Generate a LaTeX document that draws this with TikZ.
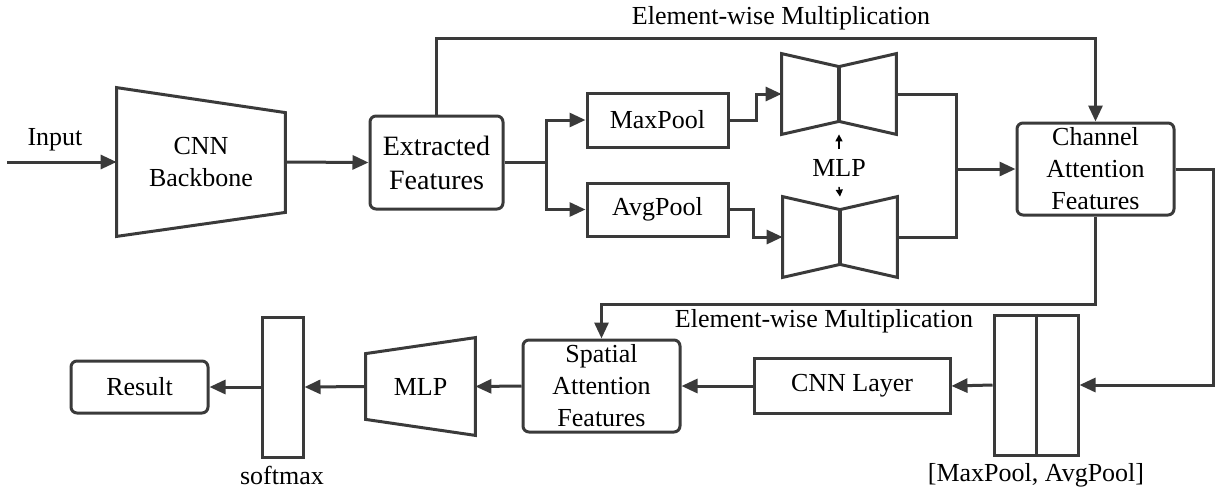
\documentclass[tikz,border=0pt]{standalone}
\usepackage{fontspec}
\setmainfont{Liberation Serif}
\usepackage{xcolor}
\usepackage{tikz}
\usetikzlibrary{positioning, arrows.meta}
\definecolor{linegray}{HTML}{3A3A3A}

\tikzset{
  edge/.style={draw=linegray, line width=1.5pt},
  arr/.style={edge, -{Triangle[length=8pt, width=7pt]}},
  tinyarr/.style={draw=black, line width=0.7pt, -{Triangle[length=3.5pt, width=3.5pt]}},
  rbox/.style={edge, rounded corners=3pt, align=center, inner sep=0pt},
  sqbox/.style={edge, align=center, inner sep=0pt},
  ghost/.style={draw=none, align=center, inner sep=0pt},
  lbl/.style={inner sep=0pt, align=center}
}

\begin{document}
\begin{tikzpicture}[x=0.5pt, y=-0.5pt, font=\fontsize{13}{16}\selectfont]
  \useasboundingbox (0,0) rectangle (1215,488);

  % top row
  \coordinate (in) at (7,162);
  \node[lbl] (inlbl) at (55,140) {Input};
  \node[ghost, minimum width=84pt, minimum height=74pt] (cnn) at (201,162) {CNN\\Backbone};
  \draw[edge] (cnn.north west) -- ([yshift=-12.5pt]cnn.north east)
    -- ([yshift=12pt]cnn.south east) -- (cnn.south west) -- cycle;
  \node[rbox, minimum width=66.5pt, minimum height=46.5pt,
        font=\fontsize{14}{17}\selectfont] (ext) at (436.5,162.5) {Extracted\\Features};
  \node[sqbox, minimum width=70.5pt, minimum height=27pt] (maxp) at (657.5,120) {MaxPool};
  \node[sqbox, minimum width=70.5pt, minimum height=26.5pt] (avgp) at (657.5,209.5) {AvgPool};
  \node[ghost, minimum width=57pt, minimum height=40pt] (mlpa) at (839,94) {};
  \node[ghost, minimum width=57pt, minimum height=40pt] (mlpb) at (840,237) {};
  \foreach \m in {mlpa, mlpb} {
    \draw[edge] (\m.north west) -- ([yshift=-6.5pt]\m.north) -- (\m.north east)
      -- (\m.south east) -- ([yshift=6.5pt]\m.south) -- (\m.south west) -- cycle;
    \draw[edge, line width=2pt] ([yshift=-6.5pt]\m.north) -- ([yshift=6.5pt]\m.south);
  }
  \node[lbl, inner sep=5pt] (mlplbl) at (839,168) {MLP};
  \node[rbox, minimum width=78.5pt, minimum height=46pt] (chan) at (1095.5,169)
    {Channel\\Attention\\Features};
  \coordinate (join) at (956,169);

  % bottom row
  \node[sqbox, minimum width=42pt, minimum height=70pt] (cat) at (1036,385) {};
  \draw[edge] (cat.north) -- (cat.south);
  \node[lbl] (catlbl) at (1036,475) {[MaxPool, AvgPool]};
  \node[sqbox, minimum width=98pt, minimum height=27.5pt] (cnnl) at (852,386) {CNN Layer};
  \node[rbox, minimum width=78.5pt, minimum height=46pt] (spat) at (601.5,386)
    {Spatial\\Attention\\Features};
  \node[ghost, minimum width=54.5pt, minimum height=48.5pt] (mlpc) at (420.5,386.5) {MLP};
  \draw[edge] ([yshift=-8pt]mlpc.north west) -- (mlpc.north east)
    -- (mlpc.south east) -- ([yshift=8pt]mlpc.south west) -- cycle;
  \node[sqbox, minimum width=20.5pt, minimum height=70pt] (soft) at (282.5,387) {};
  \node[lbl] (softlbl) at (282,475) {softmax};
  \node[rbox, minimum width=68.5pt, minimum height=26pt] (res) at (139.5,387) {Result};

  \node[lbl] (mul1) at (781,18) {Element-wise Multiplication};
  \node[lbl] (mul2) at (824,321) {Element-wise Multiplication};

  % connectors
  \draw[arr] (in) -- (cnn.west);
  \draw[arr] (cnn.east) -- (ext.west);
  \draw[arr] (ext.east) -- ++(42,0) |- (maxp.west);
  \draw[arr] (ext.east) -- ++(42,0) |- (avgp.west);
  \draw[arr] (maxp.east) -- ++(27,0) |- (mlpa.west);
  \draw[arr] (avgp.east) -- ++(24,0) |- (mlpb.west);
  \draw[edge] (mlpa.east) -| (join);
  \draw[edge] (mlpb.east) -| (join);
  \draw[arr] (join) -- (chan.west);
  \draw[tinyarr] (mlplbl.north) -- (mlpa.south);
  \draw[tinyarr] (mlplbl.south) -- (mlpb.north);
  \draw[arr] (ext.north) -- ++(0,-76) -| (chan.north);
  \draw[arr] (chan.east) -- ++(38,0) |- (cat.east);
  \draw[arr] (chan.south) -- ++(0,88) -| (spat.north);
  \draw[arr] (cat.west) -- (cnnl.east);
  \draw[arr] (cnnl.west) -- (spat.east);
  \draw[arr] (spat.west) -- (mlpc.east);
  \draw[arr] (mlpc.west) -- (soft.east);
  \draw[arr] (soft.west) -- (res.east);
\end{tikzpicture}
\end{document}
